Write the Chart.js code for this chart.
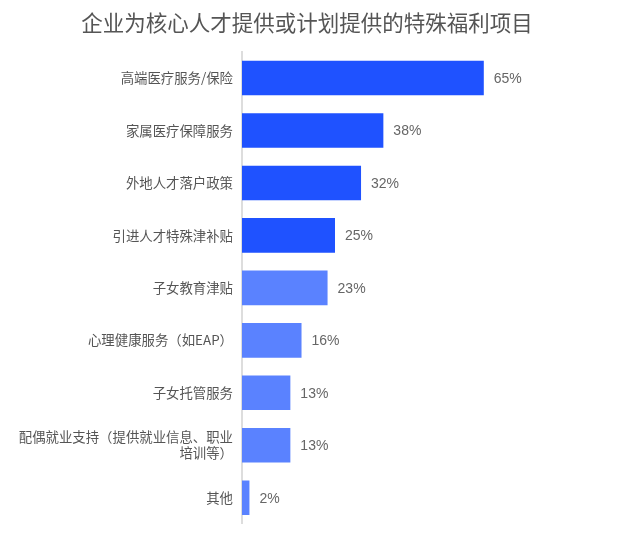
<!DOCTYPE html>
<html>
<head>
<meta charset="utf-8">
<script src="https://cdn.jsdelivr.net/npm/chart.js@4"></script>
<style>
  html, body { margin: 0; padding: 0; background: #fff; }
  #wrap { width: 634px; height: 541px; }
</style>
</head>
<body>
<div id="wrap"><canvas id="benefitChart"></canvas></div>
<script>
const categories = [
    '高端医疗服务/保险',
    '家属医疗保障服务',
    '外地人才落户政策',
    '引进人才特殊津补贴',
    '子女教育津贴',
    '心理健康服务（如EAP）',
    '子女托管服务',
    ['配偶就业支持（提供就业信息、职业', '培训等）'],
    '其他'
];
const shares = [65, 38, 32, 25, 23, 16, 13, 13, 2];
const barColors = ['#1F52FF', '#1F52FF', '#1F52FF', '#1F52FF', '#5A82FF', '#5A82FF', '#5A82FF', '#5A82FF', '#5A82FF'];

const fontFamily = '"Noto Sans CJK SC", "Noto Sans", sans-serif';

// draw the "65%" labels just past the end of each bar
const valueLabels = {
    id: 'valueLabels',
    afterDatasetsDraw(chart) {
        const ctx = chart.ctx;
        const meta = chart.getDatasetMeta(0);
        ctx.save();
        ctx.font = '14px "Liberation Sans", Arial, sans-serif';
        ctx.fillStyle = '#666';
        ctx.textAlign = 'left';
        ctx.textBaseline = 'middle';
        meta.data.forEach((bar, i) => {
            ctx.fillText(shares[i] + '%', bar.x + 10, bar.y + 1);
        });
        ctx.restore();
    }
};

new Chart(document.getElementById('benefitChart'), {
    type: 'bar',
    data: {
        labels: categories,
        datasets: [{
            data: shares,
            backgroundColor: barColors,
            barPercentage: 0.66,
            categoryPercentage: 1
        }]
    },
    options: {
        indexAxis: 'y',
        responsive: true,
        maintainAspectRatio: false,
        animation: false,
        layout: {
            padding: { left: 0, right: 20, bottom: 14 }
        },
        plugins: {
            legend: { display: false },
            tooltip: { enabled: false },
            title: {
                display: true,
                text: '企业为核心人才提供或计划提供的特殊福利项目',
                color: '#555',
                font: { family: fontFamily, size: 21.5, weight: 'normal' },
                padding: { top: 10, bottom: 16 }
            }
        },
        scales: {
            x: {
                display: false,
                min: 0,
                max: 100
            },
            y: {
                afterFit(scale) { scale.width = 242; },
                grid: { display: false, drawTicks: false },
                border: { display: true, color: '#ddd', width: 2 },
                ticks: {
                    color: '#555',
                    padding: 9,
                    font: { family: fontFamily, size: 13.4 }
                }
            }
        }
    },
    plugins: [valueLabels]
});
</script>
</body>
</html>
